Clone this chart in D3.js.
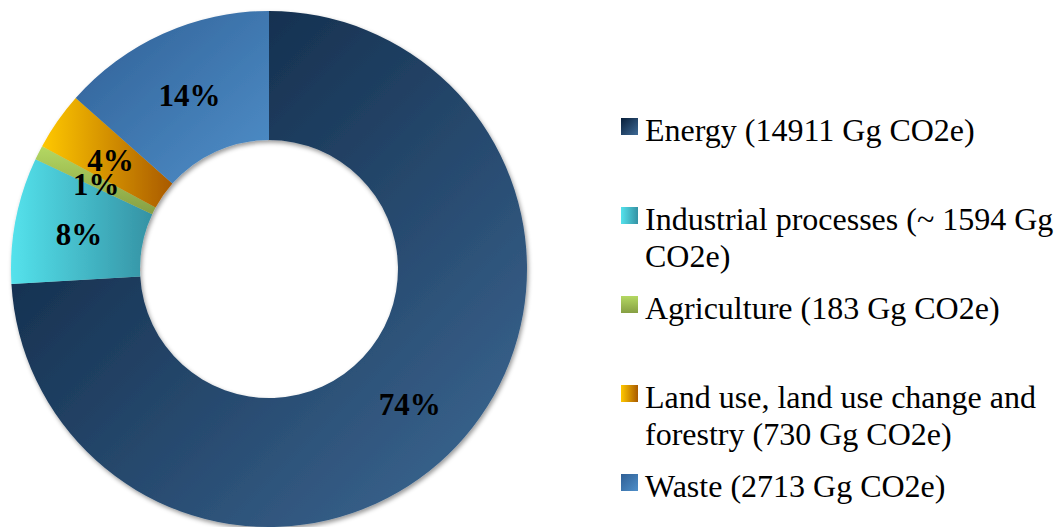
<!DOCTYPE html>
<html>
<head>
<meta charset="utf-8">
<script src="https://cdn.jsdelivr.net/npm/d3@7"></script>
<style>
  html, body { margin: 0; padding: 0; background: #ffffff; }
  svg { display: block; }
</style>
</head>
<body>
<svg id="chart" width="1057" height="527"></svg>
<script>
// Greenhouse gas emissions by sector (Gg CO2e)
const categories = ["Energy", "Industrial processes", "Agriculture",
  "Land use, land use change and forestry", "Waste"];
const emissions = [14911, 1594, 183, 730, 2713];
const shareLabels = ["74%", "8%", "1%", "4%", "14%"];
const legendLines = [
  ["Energy (14911 Gg CO2e)"],
  ["Industrial processes (~ 1594 Gg", "CO2e)"],
  ["Agriculture (183 Gg CO2e)"],
  ["Land use, land use change and", "forestry (730 Gg CO2e)"],
  ["Waste (2713 Gg CO2e)"]
];
// gradient start/end colours and direction per sector
const gradStart = ["#081e39", "#54e2ec", "#b4d862", "#ffc800", "#2f5f95"];
const gradEnd   = ["#3e6a96", "#3592a4", "#869f43", "#a95a00", "#4f8fc9"];
const gradDir   = ["diag", "horiz", "vert", "horiz", "diag"];

const svg = d3.select("#chart");
const defs = svg.append("defs");

const dirs = {
  diag:  { x1: 0, y1: 0, x2: 1, y2: 1 },
  horiz: { x1: 0, y1: 0, x2: 1, y2: 0 },
  vert:  { x1: 0, y1: 0, x2: 0, y2: 1 }
};

categories.forEach((c, i) => {
  const d = dirs[gradDir[i]];
  const g = defs.append("linearGradient")
    .attr("id", "grad" + i)
    .attr("x1", d.x1).attr("y1", d.y1).attr("x2", d.x2).attr("y2", d.y2);
  g.append("stop").attr("offset", 0).attr("stop-color", gradStart[i]);
  g.append("stop").attr("offset", 1).attr("stop-color", gradEnd[i]);
});

const shadow = defs.append("filter").attr("id", "ringShadow")
  .attr("x", "-10%").attr("y", "-10%").attr("width", "120%").attr("height", "120%");
shadow.append("feDropShadow")
  .attr("dx", 1.5).attr("dy", 2.5).attr("stdDeviation", 2)
  .attr("flood-color", "#000").attr("flood-opacity", 0.4);

const cx = 269, cy = 269;
const outerR = 258, innerR = 129;

const pie = d3.pie().sort(null).value(d => d);
const arcs = pie(emissions);
const arc = d3.arc().innerRadius(innerR).outerRadius(outerR);

const ring = svg.append("g")
  .attr("transform", `translate(${cx},${cy})`);

ring.append("g")
  .attr("filter", "url(#ringShadow)")
  .selectAll("path")
  .data(arcs)
  .join("path")
  .attr("d", arc)
  .attr("fill", (d, i) => `url(#grad${i})`);

ring.selectAll("text.pct")
  .data(arcs)
  .join("text")
  .attr("class", "pct")
  .attr("transform", d => `translate(${arc.centroid(d)})`)
  .attr("dy", 13)
  .attr("text-anchor", "middle")
  .style("font-family", "'Liberation Serif', 'Times New Roman', serif")
  .style("font-weight", "bold")
  .style("font-size", "31px")
  .attr("fill", "#000")
  .text((d, i) => shareLabels[i]);

// Legend
const legendX = 621, firstBaseline = 141, rowStep = 89, lineH = 37, sw = 17;
const legend = svg.append("g");
const rows = legend.selectAll("g.row")
  .data(categories)
  .join("g")
  .attr("class", "row")
  .attr("transform", (d, i) => `translate(${legendX},${firstBaseline + i * rowStep})`);

rows.append("rect")
  .attr("x", 0).attr("y", -23)
  .attr("width", sw).attr("height", sw)
  .attr("fill", (d, i) => `url(#grad${i})`);

rows.append("text")
  .attr("x", 24)
  .style("font-family", "'Liberation Serif', 'Times New Roman', serif")
  .style("font-size", "32px")
  .attr("fill", "#000")
  .selectAll("tspan")
  .data((d, i) => legendLines[i])
  .join("tspan")
  .attr("x", 24)
  .attr("dy", (d, j) => j === 0 ? 0 : lineH)
  .text(d => d);
</script>
</body>
</html>
